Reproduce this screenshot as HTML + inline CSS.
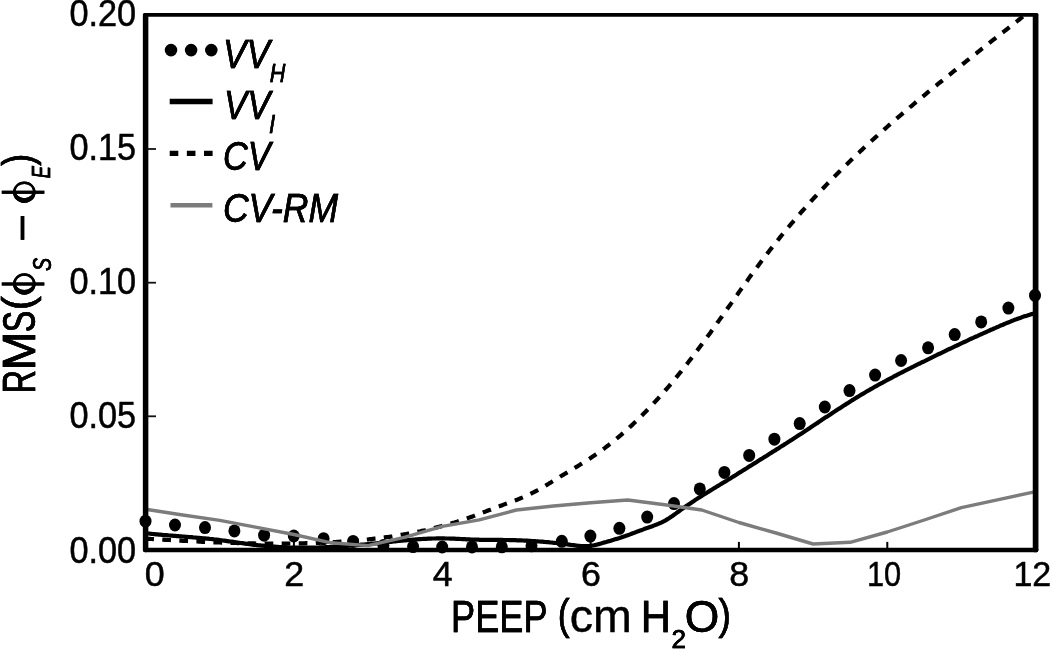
<!DOCTYPE html>
<html><head><meta charset="utf-8"><title>chart</title>
<style>html,body{margin:0;padding:0;background:#fff}svg{display:block;filter:blur(0.55px)}</style></head>
<body>
<svg width="1050" height="650" viewBox="0 0 1050 650" font-family="'Liberation Sans', sans-serif">
<rect width="1050" height="650" fill="#fff"/>
<defs><filter id="hb" filterUnits="userSpaceOnUse" x="0" y="0" width="1050" height="650"><feOffset in="SourceGraphic" dx="0.45" result="a"/><feOffset in="SourceGraphic" dx="-0.45" result="b"/><feMerge><feMergeNode in="a"/><feMergeNode in="b"/></feMerge></filter><filter id="vb" filterUnits="userSpaceOnUse" x="0" y="0" width="1050" height="650"><feOffset in="SourceGraphic" dy="0.45" result="a"/><feOffset in="SourceGraphic" dy="-0.45" result="b"/><feMerge><feMergeNode in="a"/><feMergeNode in="b"/></feMerge></filter><clipPath id="pc"><rect x="145.6" y="13.8" width="892.0" height="539.3"/></clipPath></defs>
<ellipse cx="145.5" cy="521.2" rx="6.0" ry="6.5" fill="#000"/>
<ellipse cx="175.0" cy="525.0" rx="6.0" ry="6.5" fill="#000"/>
<ellipse cx="205.0" cy="527.6" rx="6.0" ry="6.5" fill="#000"/>
<ellipse cx="234.4" cy="530.9" rx="6.0" ry="6.5" fill="#000"/>
<ellipse cx="264.1" cy="535.2" rx="6.0" ry="6.5" fill="#000"/>
<ellipse cx="293.8" cy="536.0" rx="6.0" ry="6.5" fill="#000"/>
<ellipse cx="323.6" cy="538.7" rx="6.0" ry="6.5" fill="#000"/>
<ellipse cx="353.1" cy="541.4" rx="6.0" ry="6.5" fill="#000"/>
<ellipse cx="383.4" cy="545.6" rx="6.0" ry="6.5" fill="#000"/>
<ellipse cx="413.1" cy="546.6" rx="6.0" ry="6.5" fill="#000"/>
<ellipse cx="442.2" cy="547.0" rx="6.0" ry="6.5" fill="#000"/>
<ellipse cx="472.0" cy="546.9" rx="6.0" ry="6.5" fill="#000"/>
<ellipse cx="501.8" cy="546.8" rx="6.0" ry="6.5" fill="#000"/>
<ellipse cx="531.5" cy="545.8" rx="6.0" ry="6.5" fill="#000"/>
<ellipse cx="561.8" cy="541.3" rx="6.0" ry="6.5" fill="#000"/>
<ellipse cx="590.4" cy="536.1" rx="6.0" ry="6.5" fill="#000"/>
<ellipse cx="619.4" cy="528.3" rx="6.0" ry="6.5" fill="#000"/>
<ellipse cx="647.2" cy="517.1" rx="6.0" ry="6.5" fill="#000"/>
<ellipse cx="674.0" cy="503.6" rx="6.0" ry="6.5" fill="#000"/>
<ellipse cx="699.8" cy="488.9" rx="6.0" ry="6.5" fill="#000"/>
<ellipse cx="724.4" cy="472.4" rx="6.0" ry="6.5" fill="#000"/>
<ellipse cx="749.2" cy="455.4" rx="6.0" ry="6.5" fill="#000"/>
<ellipse cx="774.4" cy="439.2" rx="6.0" ry="6.5" fill="#000"/>
<ellipse cx="799.7" cy="423.6" rx="6.0" ry="6.5" fill="#000"/>
<ellipse cx="824.8" cy="407.0" rx="6.0" ry="6.5" fill="#000"/>
<ellipse cx="849.5" cy="390.6" rx="6.0" ry="6.5" fill="#000"/>
<ellipse cx="875.1" cy="375.1" rx="6.0" ry="6.5" fill="#000"/>
<ellipse cx="901.1" cy="360.5" rx="6.0" ry="6.5" fill="#000"/>
<ellipse cx="928.1" cy="347.8" rx="6.0" ry="6.5" fill="#000"/>
<ellipse cx="954.7" cy="334.6" rx="6.0" ry="6.5" fill="#000"/>
<ellipse cx="981.2" cy="321.9" rx="6.0" ry="6.5" fill="#000"/>
<ellipse cx="1008.4" cy="308.1" rx="6.0" ry="6.5" fill="#000"/>
<ellipse cx="1035.0" cy="295.4" rx="6.0" ry="6.5" fill="#000"/>
<g clip-path="url(#pc)" fill="none">
<path d="M145.6,533.2 L147.1,533.4 L148.6,533.5 L150.1,533.7 L151.5,533.8 L153.0,534.0 L154.5,534.1 L156.0,534.3 L157.5,534.4 L159.0,534.6 L160.5,534.7 L161.9,534.8 L163.4,535.0 L164.9,535.1 L166.4,535.2 L167.9,535.3 L169.4,535.5 L170.9,535.6 L172.3,535.7 L173.8,535.8 L175.3,535.9 L176.8,536.1 L178.3,536.2 L179.8,536.3 L181.3,536.4 L182.7,536.5 L184.2,536.6 L185.7,536.8 L187.2,536.9 L188.7,537.0 L190.2,537.1 L191.7,537.2 L193.1,537.4 L194.6,537.5 L196.1,537.6 L197.6,537.8 L199.1,537.9 L200.6,538.0 L202.1,538.2 L203.5,538.3 L205.0,538.4 L206.5,538.6 L208.0,538.7 L209.5,538.9 L211.0,539.0 L212.5,539.2 L213.9,539.4 L215.4,539.5 L216.9,539.7 L218.4,539.9 L219.9,540.1 L221.4,540.3 L222.9,540.5 L224.3,540.7 L225.8,540.9 L227.3,541.1 L228.8,541.3 L230.3,541.5 L231.8,541.7 L233.3,541.9 L234.7,542.2 L236.2,542.4 L237.7,542.6 L239.2,542.8 L240.7,543.0 L242.2,543.2 L243.7,543.4 L245.1,543.6 L246.6,543.8 L248.1,544.0 L249.6,544.2 L251.1,544.4 L252.6,544.6 L254.1,544.8 L255.5,545.0 L257.0,545.1 L258.5,545.3 L260.0,545.4 L261.5,545.6 L263.0,545.7 L264.5,545.9 L266.0,546.0 L267.4,546.1 L268.9,546.3 L270.4,546.4 L271.9,546.5 L273.4,546.6 L274.9,546.7 L276.4,546.8 L277.8,546.9 L279.3,547.0 L280.8,547.1 L282.3,547.2 L283.8,547.2 L285.3,547.3 L286.8,547.4 L288.2,547.4 L289.7,547.5 L291.2,547.5 L292.7,547.5 L294.2,547.6 L295.7,547.6 L297.2,547.6 L298.6,547.7 L300.1,547.7 L301.6,547.7 L303.1,547.7 L304.6,547.7 L306.1,547.7 L307.6,547.7 L309.0,547.7 L310.5,547.6 L312.0,547.6 L313.5,547.6 L315.0,547.5 L316.5,547.5 L318.0,547.5 L319.4,547.4 L320.9,547.4 L322.4,547.3 L323.9,547.3 L325.4,547.2 L326.9,547.1 L328.4,547.1 L329.8,547.0 L331.3,546.9 L332.8,546.8 L334.3,546.7 L335.8,546.7 L337.3,546.6 L338.8,546.5 L340.2,546.4 L341.7,546.3 L343.2,546.2 L344.7,546.1 L346.2,546.0 L347.7,545.8 L349.2,545.7 L350.6,545.6 L352.1,545.5 L353.6,545.4 L355.1,545.2 L356.6,545.1 L358.1,545.0 L359.6,544.9 L361.0,544.7 L362.5,544.6 L364.0,544.5 L365.5,544.3 L367.0,544.2 L368.5,544.0 L370.0,543.9 L371.4,543.7 L372.9,543.6 L374.4,543.5 L375.9,543.3 L377.4,543.2 L378.9,543.0 L380.4,542.8 L381.8,542.7 L383.3,542.5 L384.8,542.4 L386.3,542.2 L387.8,542.1 L389.3,541.9 L390.8,541.8 L392.2,541.6 L393.7,541.5 L395.2,541.3 L396.7,541.2 L398.2,541.0 L399.7,540.9 L401.2,540.7 L402.6,540.6 L404.1,540.4 L405.6,540.3 L407.1,540.2 L408.6,540.0 L410.1,539.9 L411.6,539.8 L413.0,539.6 L414.5,539.5 L416.0,539.4 L417.5,539.3 L419.0,539.2 L420.5,539.1 L422.0,539.0 L423.4,538.9 L424.9,538.9 L426.4,538.8 L427.9,538.7 L429.4,538.6 L430.9,538.6 L432.4,538.5 L433.8,538.5 L435.3,538.5 L436.8,538.4 L438.3,538.4 L439.8,538.4 L441.3,538.4 L442.8,538.4 L444.2,538.4 L445.7,538.5 L447.2,538.5 L448.7,538.5 L450.2,538.6 L451.7,538.6 L453.2,538.7 L454.6,538.7 L456.1,538.8 L457.6,538.9 L459.1,538.9 L460.6,539.0 L462.1,539.1 L463.6,539.1 L465.0,539.2 L466.5,539.3 L468.0,539.4 L469.5,539.4 L471.0,539.5 L472.5,539.5 L474.0,539.6 L475.4,539.7 L476.9,539.7 L478.4,539.7 L479.9,539.8 L481.4,539.8 L482.9,539.8 L484.4,539.9 L485.9,539.9 L487.3,539.9 L488.8,539.9 L490.3,539.9 L491.8,539.9 L493.3,539.9 L494.8,539.9 L496.3,539.9 L497.7,539.9 L499.2,539.9 L500.7,539.9 L502.2,539.9 L503.7,540.0 L505.2,540.0 L506.7,540.0 L508.1,540.0 L509.6,540.1 L511.1,540.1 L512.6,540.1 L514.1,540.2 L515.6,540.2 L517.1,540.3 L518.5,540.3 L520.0,540.4 L521.5,540.4 L523.0,540.5 L524.5,540.6 L526.0,540.7 L527.5,540.7 L528.9,540.8 L530.4,540.9 L531.9,541.0 L533.4,541.1 L534.9,541.2 L536.4,541.3 L537.9,541.4 L539.3,541.5 L540.8,541.6 L542.3,541.7 L543.8,541.8 L545.3,542.0 L546.8,542.1 L548.3,542.2 L549.7,542.4 L551.2,542.5 L552.7,542.7 L554.2,542.8 L555.7,543.0 L557.2,543.1 L558.7,543.3 L560.1,543.5 L561.6,543.6 L563.1,543.8 L564.6,544.0 L566.1,544.2 L567.6,544.4 L569.1,544.6 L570.5,544.8 L572.0,545.0 L573.5,545.2 L575.0,545.4 L576.5,545.6 L578.0,545.8 L579.5,545.9 L580.9,546.0 L582.4,546.1 L583.9,546.1 L585.4,546.2 L586.9,546.1 L588.4,546.0 L589.9,545.9 L591.3,545.7 L592.8,545.5 L594.3,545.2 L595.8,544.9 L597.3,544.5 L598.8,544.1 L600.3,543.7 L601.7,543.3 L603.2,542.8 L604.7,542.4 L606.2,542.0 L607.7,541.5 L609.2,541.1 L610.7,540.7 L612.1,540.2 L613.6,539.8 L615.1,539.3 L616.6,538.9 L618.1,538.4 L619.6,538.0 L621.1,537.5 L622.5,537.0 L624.0,536.5 L625.5,536.0 L627.0,535.4 L628.5,534.9 L630.0,534.4 L631.5,533.8 L632.9,533.2 L634.4,532.7 L635.9,532.1 L637.4,531.6 L638.9,531.0 L640.4,530.4 L641.9,529.9 L643.3,529.4 L644.8,528.8 L646.3,528.3 L647.8,527.8 L649.3,527.2 L650.8,526.7 L652.3,526.2 L653.7,525.6 L655.2,525.1 L656.7,524.5 L658.2,523.9 L659.7,523.2 L661.2,522.6 L662.7,521.8 L664.1,521.1 L665.6,520.3 L667.1,519.4 L668.6,518.5 L670.1,517.5 L671.6,516.5 L673.1,515.5 L674.5,514.4 L676.0,513.4 L677.5,512.3 L679.0,511.2 L680.5,510.1 L682.0,509.1 L683.5,508.0 L684.9,506.9 L686.4,505.9 L687.9,504.9 L689.4,503.9 L690.9,502.9 L692.4,501.9 L693.9,500.9 L695.3,499.9 L696.8,499.0 L698.3,498.0 L699.8,497.1 L701.3,496.2 L702.8,495.2 L704.3,494.3 L705.8,493.4 L707.2,492.5 L708.7,491.6 L710.2,490.6 L711.7,489.7 L713.2,488.8 L714.7,487.9 L716.2,487.0 L717.6,486.1 L719.1,485.2 L720.6,484.3 L722.1,483.4 L723.6,482.5 L725.1,481.6 L726.6,480.7 L728.0,479.8 L729.5,478.9 L731.0,478.0 L732.5,477.0 L734.0,476.1 L735.5,475.2 L737.0,474.3 L738.4,473.3 L739.9,472.4 L741.4,471.5 L742.9,470.5 L744.4,469.6 L745.9,468.7 L747.4,467.8 L748.8,466.8 L750.3,465.9 L751.8,465.0 L753.3,464.0 L754.8,463.1 L756.3,462.2 L757.8,461.2 L759.2,460.3 L760.7,459.4 L762.2,458.5 L763.7,457.5 L765.2,456.6 L766.7,455.7 L768.2,454.7 L769.6,453.8 L771.1,452.9 L772.6,451.9 L774.1,451.0 L775.6,450.1 L777.1,449.1 L778.6,448.2 L780.0,447.2 L781.5,446.3 L783.0,445.4 L784.5,444.4 L786.0,443.5 L787.5,442.5 L789.0,441.6 L790.4,440.6 L791.9,439.7 L793.4,438.7 L794.9,437.7 L796.4,436.8 L797.9,435.8 L799.4,434.8 L800.8,433.9 L802.3,432.9 L803.8,431.9 L805.3,430.9 L806.8,430.0 L808.3,429.0 L809.8,428.0 L811.2,427.0 L812.7,426.0 L814.2,425.0 L815.7,424.0 L817.2,423.1 L818.7,422.1 L820.2,421.1 L821.6,420.1 L823.1,419.1 L824.6,418.1 L826.1,417.1 L827.6,416.2 L829.1,415.2 L830.6,414.2 L832.0,413.2 L833.5,412.2 L835.0,411.3 L836.5,410.3 L838.0,409.3 L839.5,408.4 L841.0,407.4 L842.4,406.5 L843.9,405.5 L845.4,404.6 L846.9,403.6 L848.4,402.7 L849.9,401.7 L851.4,400.8 L852.8,399.9 L854.3,399.0 L855.8,398.0 L857.3,397.1 L858.8,396.2 L860.3,395.3 L861.8,394.4 L863.2,393.6 L864.7,392.7 L866.2,391.8 L867.7,390.9 L869.2,390.1 L870.7,389.2 L872.2,388.4 L873.6,387.5 L875.1,386.7 L876.6,385.9 L878.1,385.0 L879.6,384.2 L881.1,383.4 L882.6,382.6 L884.0,381.8 L885.5,381.0 L887.0,380.2 L888.5,379.4 L890.0,378.6 L891.5,377.8 L893.0,377.0 L894.4,376.2 L895.9,375.5 L897.4,374.7 L898.9,373.9 L900.4,373.2 L901.9,372.4 L903.4,371.6 L904.8,370.9 L906.3,370.1 L907.8,369.4 L909.3,368.6 L910.8,367.9 L912.3,367.1 L913.8,366.4 L915.2,365.7 L916.7,364.9 L918.2,364.2 L919.7,363.5 L921.2,362.7 L922.7,362.0 L924.2,361.3 L925.7,360.5 L927.1,359.8 L928.6,359.1 L930.1,358.4 L931.6,357.6 L933.1,356.9 L934.6,356.2 L936.1,355.5 L937.5,354.7 L939.0,354.0 L940.5,353.3 L942.0,352.6 L943.5,351.9 L945.0,351.2 L946.5,350.4 L947.9,349.7 L949.4,349.0 L950.9,348.3 L952.4,347.6 L953.9,346.9 L955.4,346.2 L956.9,345.5 L958.3,344.8 L959.8,344.1 L961.3,343.4 L962.8,342.7 L964.3,342.0 L965.8,341.3 L967.3,340.6 L968.7,339.9 L970.2,339.2 L971.7,338.5 L973.2,337.9 L974.7,337.2 L976.2,336.5 L977.7,335.8 L979.1,335.1 L980.6,334.5 L982.1,333.8 L983.6,333.1 L985.1,332.5 L986.6,331.8 L988.1,331.1 L989.5,330.5 L991.0,329.8 L992.5,329.2 L994.0,328.5 L995.5,327.9 L997.0,327.2 L998.5,326.6 L999.9,325.9 L1001.4,325.3 L1002.9,324.7 L1004.4,324.0 L1005.9,323.4 L1007.4,322.8 L1008.9,322.2 L1010.3,321.6 L1011.8,321.0 L1013.3,320.4 L1014.8,319.8 L1016.3,319.3 L1017.8,318.7 L1019.3,318.2 L1020.7,317.7 L1022.2,317.1 L1023.7,316.6 L1025.2,316.1 L1026.7,315.7 L1028.2,315.2 L1029.7,314.8 L1031.1,314.3 L1032.6,313.9 L1034.1,313.6 L1035.6,313.2" stroke="#000" stroke-width="4.2"/>
<path d="M145.6,538.6 L147.1,538.7 L148.6,538.8 L150.1,538.9 L151.5,539.0 L153.0,539.1 L154.5,539.2 L156.0,539.2 L157.5,539.3 L159.0,539.4 L160.5,539.5 L161.9,539.6 L163.4,539.7 L164.9,539.8 L166.4,539.9 L167.9,540.0 L169.4,540.0 L170.9,540.1 L172.3,540.2 L173.8,540.3 L175.3,540.4 L176.8,540.5 L178.3,540.5 L179.8,540.6 L181.3,540.7 L182.7,540.8 L184.2,540.9 L185.7,541.0 L187.2,541.0 L188.7,541.1 L190.2,541.2 L191.7,541.3 L193.1,541.3 L194.6,541.4 L196.1,541.5 L197.6,541.5 L199.1,541.6 L200.6,541.7 L202.1,541.8 L203.5,541.8 L205.0,541.9 L206.5,542.0 L208.0,542.0 L209.5,542.1 L211.0,542.1 L212.5,542.2 L213.9,542.3 L215.4,542.3 L216.9,542.4 L218.4,542.4 L219.9,542.5 L221.4,542.6 L222.9,542.6 L224.3,542.7 L225.8,542.7 L227.3,542.8 L228.8,542.8 L230.3,542.9 L231.8,542.9 L233.3,542.9 L234.7,543.0 L236.2,543.0 L237.7,543.1 L239.2,543.1 L240.7,543.2 L242.2,543.2 L243.7,543.2 L245.1,543.3 L246.6,543.3 L248.1,543.3 L249.6,543.4 L251.1,543.4 L252.6,543.4 L254.1,543.4 L255.5,543.5 L257.0,543.5 L258.5,543.5 L260.0,543.5 L261.5,543.5 L263.0,543.5 L264.5,543.6 L266.0,543.6 L267.4,543.6 L268.9,543.6 L270.4,543.6 L271.9,543.6 L273.4,543.6 L274.9,543.6 L276.4,543.6 L277.8,543.6 L279.3,543.6 L280.8,543.6 L282.3,543.6 L283.8,543.6 L285.3,543.6 L286.8,543.6 L288.2,543.5 L289.7,543.5 L291.2,543.5 L292.7,543.5 L294.2,543.5 L295.7,543.4 L297.2,543.4 L298.6,543.4 L300.1,543.4 L301.6,543.3 L303.1,543.3 L304.6,543.3 L306.1,543.2 L307.6,543.2 L309.0,543.1 L310.5,543.1 L312.0,543.1 L313.5,543.0 L315.0,543.0 L316.5,542.9 L318.0,542.8 L319.4,542.8 L320.9,542.7 L322.4,542.7 L323.9,542.6 L325.4,542.5 L326.9,542.5 L328.4,542.4 L329.8,542.3 L331.3,542.3 L332.8,542.2 L334.3,542.1 L335.8,542.0 L337.3,541.9 L338.8,541.8 L340.2,541.7 L341.7,541.6 L343.2,541.5 L344.7,541.4 L346.2,541.3 L347.7,541.2 L349.2,541.1 L350.6,541.0 L352.1,540.9 L353.6,540.8 L355.1,540.7 L356.6,540.5 L358.1,540.4 L359.6,540.3 L361.0,540.1 L362.5,540.0 L364.0,539.8 L365.5,539.7 L367.0,539.5 L368.5,539.4 L370.0,539.2 L371.4,539.1 L372.9,538.9 L374.4,538.7 L375.9,538.6 L377.4,538.4 L378.9,538.2 L380.4,538.0 L381.8,537.8 L383.3,537.6 L384.8,537.4 L386.3,537.2 L387.8,537.0 L389.3,536.8 L390.8,536.6 L392.2,536.4 L393.7,536.1 L395.2,535.9 L396.7,535.7 L398.2,535.4 L399.7,535.2 L401.2,534.9 L402.6,534.7 L404.1,534.4 L405.6,534.2 L407.1,533.9 L408.6,533.6 L410.1,533.3 L411.6,533.1 L413.0,532.8 L414.5,532.5 L416.0,532.2 L417.5,531.9 L419.0,531.6 L420.5,531.3 L422.0,530.9 L423.4,530.6 L424.9,530.3 L426.4,529.9 L427.9,529.6 L429.4,529.2 L430.9,528.9 L432.4,528.5 L433.8,528.2 L435.3,527.8 L436.8,527.4 L438.3,527.0 L439.8,526.6 L441.3,526.2 L442.8,525.8 L444.2,525.4 L445.7,525.0 L447.2,524.6 L448.7,524.2 L450.2,523.7 L451.7,523.3 L453.2,522.8 L454.6,522.4 L456.1,521.9 L457.6,521.5 L459.1,521.0 L460.6,520.5 L462.1,520.0 L463.6,519.5 L465.0,519.0 L466.5,518.5 L468.0,518.0 L469.5,517.5 L471.0,516.9 L472.5,516.4 L474.0,515.9 L475.4,515.3 L476.9,514.8 L478.4,514.2 L479.9,513.6 L481.4,513.1 L482.9,512.5 L484.4,511.9 L485.9,511.4 L487.3,510.8 L488.8,510.2 L490.3,509.7 L491.8,509.1 L493.3,508.5 L494.8,508.0 L496.3,507.4 L497.7,506.8 L499.2,506.3 L500.7,505.7 L502.2,505.2 L503.7,504.6 L505.2,504.1 L506.7,503.5 L508.1,503.0 L509.6,502.5 L511.1,501.9 L512.6,501.4 L514.1,500.8 L515.6,500.3 L517.1,499.7 L518.5,499.1 L520.0,498.5 L521.5,497.9 L523.0,497.3 L524.5,496.6 L526.0,496.0 L527.5,495.3 L528.9,494.6 L530.4,493.9 L531.9,493.1 L533.4,492.4 L534.9,491.6 L536.4,490.8 L537.9,490.0 L539.3,489.2 L540.8,488.4 L542.3,487.5 L543.8,486.7 L545.3,485.8 L546.8,484.9 L548.3,484.0 L549.7,483.1 L551.2,482.2 L552.7,481.3 L554.2,480.4 L555.7,479.5 L557.2,478.6 L558.7,477.7 L560.1,476.7 L561.6,475.8 L563.1,474.9 L564.6,474.0 L566.1,473.1 L567.6,472.2 L569.1,471.3 L570.5,470.4 L572.0,469.5 L573.5,468.7 L575.0,467.8 L576.5,466.9 L578.0,466.0 L579.5,465.1 L580.9,464.1 L582.4,463.2 L583.9,462.3 L585.4,461.4 L586.9,460.4 L588.4,459.5 L589.9,458.5 L591.3,457.5 L592.8,456.5 L594.3,455.5 L595.8,454.5 L597.3,453.5 L598.8,452.4 L600.3,451.3 L601.7,450.3 L603.2,449.2 L604.7,448.1 L606.2,446.9 L607.7,445.8 L609.2,444.6 L610.7,443.5 L612.1,442.3 L613.6,441.1 L615.1,439.9 L616.6,438.6 L618.1,437.4 L619.6,436.1 L621.1,434.9 L622.5,433.6 L624.0,432.3 L625.5,431.0 L627.0,429.6 L628.5,428.3 L630.0,426.9 L631.5,425.6 L632.9,424.2 L634.4,422.8 L635.9,421.4 L637.4,419.9 L638.9,418.5 L640.4,417.0 L641.9,415.5 L643.3,414.1 L644.8,412.6 L646.3,411.0 L647.8,409.5 L649.3,408.0 L650.8,406.4 L652.3,404.8 L653.7,403.2 L655.2,401.6 L656.7,400.0 L658.2,398.4 L659.7,396.7 L661.2,395.1 L662.7,393.4 L664.1,391.7 L665.6,390.0 L667.1,388.3 L668.6,386.6 L670.1,384.8 L671.6,383.0 L673.1,381.3 L674.5,379.5 L676.0,377.7 L677.5,375.9 L679.0,374.0 L680.5,372.2 L682.0,370.3 L683.5,368.5 L684.9,366.6 L686.4,364.7 L687.9,362.8 L689.4,360.8 L690.9,358.9 L692.4,357.0 L693.9,355.0 L695.3,353.0 L696.8,351.1 L698.3,349.1 L699.8,347.1 L701.3,345.1 L702.8,343.1 L704.3,341.0 L705.8,339.0 L707.2,337.0 L708.7,334.9 L710.2,332.9 L711.7,330.8 L713.2,328.8 L714.7,326.7 L716.2,324.6 L717.6,322.5 L719.1,320.4 L720.6,318.3 L722.1,316.2 L723.6,314.1 L725.1,312.0 L726.6,309.9 L728.0,307.8 L729.5,305.7 L731.0,303.6 L732.5,301.5 L734.0,299.4 L735.5,297.2 L737.0,295.1 L738.4,293.0 L739.9,290.9 L741.4,288.8 L742.9,286.7 L744.4,284.6 L745.9,282.6 L747.4,280.5 L748.8,278.4 L750.3,276.3 L751.8,274.3 L753.3,272.2 L754.8,270.2 L756.3,268.2 L757.8,266.2 L759.2,264.2 L760.7,262.2 L762.2,260.2 L763.7,258.2 L765.2,256.3 L766.7,254.3 L768.2,252.4 L769.6,250.5 L771.1,248.6 L772.6,246.7 L774.1,244.8 L775.6,242.9 L777.1,241.1 L778.6,239.2 L780.0,237.4 L781.5,235.5 L783.0,233.7 L784.5,231.9 L786.0,230.1 L787.5,228.3 L789.0,226.5 L790.4,224.8 L791.9,223.0 L793.4,221.3 L794.9,219.5 L796.4,217.8 L797.9,216.1 L799.4,214.4 L800.8,212.7 L802.3,211.0 L803.8,209.3 L805.3,207.6 L806.8,206.0 L808.3,204.3 L809.8,202.7 L811.2,201.0 L812.7,199.4 L814.2,197.8 L815.7,196.2 L817.2,194.6 L818.7,193.0 L820.2,191.4 L821.6,189.8 L823.1,188.3 L824.6,186.7 L826.1,185.1 L827.6,183.6 L829.1,182.1 L830.6,180.5 L832.0,179.0 L833.5,177.5 L835.0,176.0 L836.5,174.5 L838.0,173.0 L839.5,171.5 L841.0,170.0 L842.4,168.5 L843.9,167.1 L845.4,165.6 L846.9,164.2 L848.4,162.7 L849.9,161.3 L851.4,159.8 L852.8,158.4 L854.3,157.0 L855.8,155.6 L857.3,154.1 L858.8,152.7 L860.3,151.3 L861.8,149.9 L863.2,148.5 L864.7,147.2 L866.2,145.8 L867.7,144.4 L869.2,143.0 L870.7,141.7 L872.2,140.3 L873.6,139.0 L875.1,137.6 L876.6,136.3 L878.1,134.9 L879.6,133.6 L881.1,132.3 L882.6,130.9 L884.0,129.6 L885.5,128.3 L887.0,127.0 L888.5,125.7 L890.0,124.4 L891.5,123.1 L893.0,121.8 L894.4,120.5 L895.9,119.2 L897.4,117.9 L898.9,116.6 L900.4,115.4 L901.9,114.1 L903.4,112.8 L904.8,111.6 L906.3,110.3 L907.8,109.0 L909.3,107.8 L910.8,106.5 L912.3,105.3 L913.8,104.0 L915.2,102.8 L916.7,101.5 L918.2,100.3 L919.7,99.1 L921.2,97.8 L922.7,96.6 L924.2,95.4 L925.7,94.1 L927.1,92.9 L928.6,91.7 L930.1,90.5 L931.6,89.3 L933.1,88.0 L934.6,86.8 L936.1,85.6 L937.5,84.4 L939.0,83.2 L940.5,82.0 L942.0,80.8 L943.5,79.6 L945.0,78.4 L946.5,77.2 L947.9,76.0 L949.4,74.8 L950.9,73.6 L952.4,72.4 L953.9,71.2 L955.4,70.0 L956.9,68.8 L958.3,67.6 L959.8,66.4 L961.3,65.2 L962.8,64.0 L964.3,62.8 L965.8,61.6 L967.3,60.4 L968.7,59.3 L970.2,58.1 L971.7,56.9 L973.2,55.7 L974.7,54.5 L976.2,53.4 L977.7,52.2 L979.1,51.0 L980.6,49.8 L982.1,48.6 L983.6,47.5 L985.1,46.3 L986.6,45.1 L988.1,44.0 L989.5,42.8 L991.0,41.6 L992.5,40.4 L994.0,39.3 L995.5,38.1 L997.0,36.9 L998.5,35.8 L999.9,34.6 L1001.4,33.4 L1002.9,32.3 L1004.4,31.1 L1005.9,30.0 L1007.4,28.8 L1008.9,27.6 L1010.3,26.5 L1011.8,25.3 L1013.3,24.1 L1014.8,23.0 L1016.3,21.8 L1017.8,20.7 L1019.3,19.5 L1020.7,18.4 L1022.2,17.2 L1023.7,16.0 L1025.2,14.9 L1026.7,13.7 L1028.2,12.6 L1029.7,11.4 L1031.1,10.3 L1032.6,9.1 L1034.1,8.0 L1035.6,6.8" stroke="#000" stroke-width="4.2" stroke-dasharray="8.7 8.37" stroke-dashoffset="0.33"/>
<path d="M145.6,509.3 L182.7,515.0 L219.8,520.4 L256.8,527.3 L293.9,534.5 L331.0,542.8 L368.1,545.6 L405.2,537.2 L442.3,526.4 L479.3,519.8 L516.4,510.0 L553.5,506.0 L590.6,502.8 L627.7,500.0 L664.8,504.8 L701.8,510.0 L738.9,522.5 L776.0,533.0 L813.1,544.0 L850.2,542.3 L887.3,532.0 L924.3,520.0 L961.4,507.6 L998.5,499.6 L1035.6,491.6" stroke="#7c7c7c" stroke-width="3.4" stroke-linejoin="round"/>
</g>
<line x1="145.6" y1="15.65" x2="145.6" y2="549.60" stroke="#000" stroke-width="5.5" stroke-linecap="round"/>
<line x1="1035.6" y1="15.75" x2="1035.6" y2="549.50" stroke="#000" stroke-width="5.7" stroke-linecap="round"/>
<line x1="144.75" y1="14.8" x2="1036.55" y2="14.8" stroke="#000" stroke-width="3.8" stroke-linecap="round"/>
<line x1="145.10" y1="550.1" x2="1036.20" y2="550.1" stroke="#000" stroke-width="4.5" stroke-linecap="round"/>
<line x1="293.9" y1="541.9" x2="293.9" y2="549" stroke="#000" stroke-width="2"/>
<line x1="442.3" y1="541.9" x2="442.3" y2="549" stroke="#000" stroke-width="2"/>
<line x1="590.6" y1="541.9" x2="590.6" y2="549" stroke="#000" stroke-width="2"/>
<line x1="738.9" y1="541.9" x2="738.9" y2="549" stroke="#000" stroke-width="2"/>
<line x1="887.3" y1="541.9" x2="887.3" y2="549" stroke="#000" stroke-width="2"/>
<line x1="147" y1="149.0" x2="156" y2="149.0" stroke="#111" stroke-width="1.8"/>
<line x1="147" y1="282.7" x2="156" y2="282.7" stroke="#111" stroke-width="1.8"/>
<line x1="147" y1="416.3" x2="156" y2="416.3" stroke="#111" stroke-width="1.8"/>
<text transform="translate(69.43,25.70) scale(0.9428,1.0000)" font-size="36.4" fill="#000" stroke="#000" stroke-width="0.5">0.20</text>
<text transform="translate(69.43,159.60) scale(0.9428,1.0000)" font-size="36.4" fill="#000" stroke="#000" stroke-width="0.5">0.15</text>
<text transform="translate(69.43,293.80) scale(0.9428,1.0000)" font-size="36.4" fill="#000" stroke="#000" stroke-width="0.5">0.10</text>
<text transform="translate(69.43,428.10) scale(0.9428,1.0000)" font-size="36.4" fill="#000" stroke="#000" stroke-width="0.5">0.05</text>
<text transform="translate(69.43,562.60) scale(0.9428,1.0000)" font-size="36.4" fill="#000" stroke="#000" stroke-width="0.5">0.00</text>
<text transform="translate(144.67,586.00) scale(1.0000,1.0000)" font-size="35.8" fill="#000" stroke="#000" stroke-width="0.5">0</text>
<text transform="translate(284.30,586.00) scale(1.0000,1.0000)" font-size="35.8" fill="#000" stroke="#000" stroke-width="0.5">2</text>
<text transform="translate(432.72,586.00) scale(1.0000,1.0000)" font-size="35.8" fill="#000" stroke="#000" stroke-width="0.5">4</text>
<text transform="translate(580.88,586.00) scale(1.0000,1.0000)" font-size="35.8" fill="#000" stroke="#000" stroke-width="0.5">6</text>
<text transform="translate(729.21,586.00) scale(1.0000,1.0000)" font-size="35.8" fill="#000" stroke="#000" stroke-width="0.5">8</text>
<text transform="translate(866.89,586.00) scale(0.8603,1.0000)" font-size="35.8" fill="#000" stroke="#000" stroke-width="0.5">10</text>
<text transform="translate(1013.45,586.00) scale(0.9500,1.0000)" font-size="35.8" fill="#000" stroke="#000" stroke-width="0.5">12</text>
<g filter="url(#hb)">
<text transform="translate(451.00,631.90) scale(0.7994,1.0000)" font-size="45.3" fill="#000" stroke="#000" stroke-width="0.5">PEEP</text>
<text transform="translate(557.67,629.20) scale(0.7830,0.9330)" font-size="45.3" fill="#000" stroke="#000" stroke-width="0.5">(</text>
</g>
<text transform="translate(569.80,631.90) scale(1.0278,1.0000)" font-size="45.3" fill="#000" stroke="#000" stroke-width="0.4">cm</text>
<g filter="url(#hb)">
<text transform="translate(640.66,631.90) scale(0.9224,1.0000)" font-size="45.3" fill="#000" stroke="#000" stroke-width="0.5">H</text>
<text transform="translate(671.59,647.60) scale(1.0216,1.0000)" font-size="25.6" fill="#000" stroke="#000" stroke-width="0.5">2</text>
<text transform="translate(684.70,631.90) scale(0.9797,1.0000)" font-size="45.3" fill="#000" stroke="#000" stroke-width="0.5">O</text>
<text transform="translate(718.43,629.30) scale(0.8236,0.9360)" font-size="45.3" fill="#000" stroke="#000" stroke-width="0.5">)</text>
</g>
<circle cx="171" cy="50.1" r="6.3" fill="#000"/>
<circle cx="191.1" cy="50.1" r="6.3" fill="#000"/>
<circle cx="211.3" cy="50.1" r="6.3" fill="#000"/>
<line x1="169.7" y1="101.5" x2="212.6" y2="101.5" stroke="#000" stroke-width="5.4"/>
<line x1="169.7" y1="153.4" x2="212.6" y2="153.4" stroke="#000" stroke-width="5.4" stroke-dasharray="8.6 8.55"/>
<line x1="170.5" y1="205.2" x2="212.4" y2="205.2" stroke="#7c7c7c" stroke-width="4.6"/>
<g filter="url(#hb)">
<text transform="translate(223.05,67.50) scale(0.8578,1.0000)" font-size="40.8" font-style="italic" fill="#000" stroke="#000" stroke-width="0.5">VV</text>
<text transform="translate(269.65,81.80) scale(0.8211,1.0000)" font-size="26.3" font-style="italic" fill="#000" stroke="#000" stroke-width="0.5">H</text>
<text transform="translate(224.08,119.30) scale(0.8486,1.0000)" font-size="40.8" font-style="italic" fill="#000" stroke="#000" stroke-width="0.5">VV</text>
<text transform="translate(269.11,132.50) scale(0.8450,1.0000)" font-size="26.3" font-style="italic" fill="#000" stroke="#000" stroke-width="0.5">I</text>
<text transform="translate(223.02,169.70) scale(0.8396,1.0000)" font-size="40.8" font-style="italic" fill="#000" stroke="#000" stroke-width="0.5">CV</text>
<text transform="translate(222.95,221.50) scale(0.8711,1.0000)" font-size="40.8" font-style="italic" fill="#000" stroke="#000" stroke-width="0.5">CV-RM</text>
</g>
<g filter="url(#vb)">
<g transform="translate(0,390.8) rotate(-90)">
<text transform="translate(-2.61,35.00) scale(0.7027,1.0000)" font-size="46.4" fill="#000" stroke="#000" stroke-width="0.5">R</text>
<text transform="translate(20.25,35.00) scale(1.0100,1.0000)" font-size="46.4" fill="#000" stroke="#000" stroke-width="0.5">M</text>
<text transform="translate(58.55,35.00) scale(0.6934,1.0000)" font-size="46.4" fill="#000" stroke="#000" stroke-width="0.5">S</text>
<text transform="translate(80.56,31.80) scale(0.9109,0.8980)" font-size="46.4" fill="#000" stroke="#000" stroke-width="0.5">(</text>
<path d="M96.10,24.30 a10.7,11.3 0 1,0 21.40,0 a10.7,11.3 0 1,0 -21.40,0 Z M100.80,24.30 a7.1,8.7 0 1,0 14.20,0 a7.1,8.7 0 1,0 -14.20,0 Z" fill="#000" fill-rule="evenodd"/>
<line x1="106.8" y1="1.8" x2="106.8" y2="44.3" stroke="#000" stroke-width="2.9"/>
<path d="M187.90,24.30 a10.7,11.3 0 1,0 21.40,0 a10.7,11.3 0 1,0 -21.40,0 Z M192.60,24.30 a7.1,8.7 0 1,0 14.20,0 a7.1,8.7 0 1,0 -14.20,0 Z" fill="#000" fill-rule="evenodd"/>
<line x1="198.6" y1="1.8" x2="198.6" y2="44.3" stroke="#000" stroke-width="2.9"/>
<text transform="translate(119.71,50.60) scale(0.7483,1.0000)" font-size="26.3" font-style="italic" fill="#000" stroke="#000" stroke-width="0.5">S</text>
<line x1="151" y1="22.5" x2="174.7" y2="22.5" stroke="#000" stroke-width="3.5"/>
<text transform="translate(212.56,50.40) scale(0.6897,1.0000)" font-size="26.3" font-style="italic" fill="#000" stroke="#000" stroke-width="0.5">E</text>
<text transform="translate(225.04,31.80) scale(0.7709,0.8980)" font-size="46.4" fill="#000" stroke="#000" stroke-width="0.5">)</text>
</g>
</g>
</svg>
</body></html>
